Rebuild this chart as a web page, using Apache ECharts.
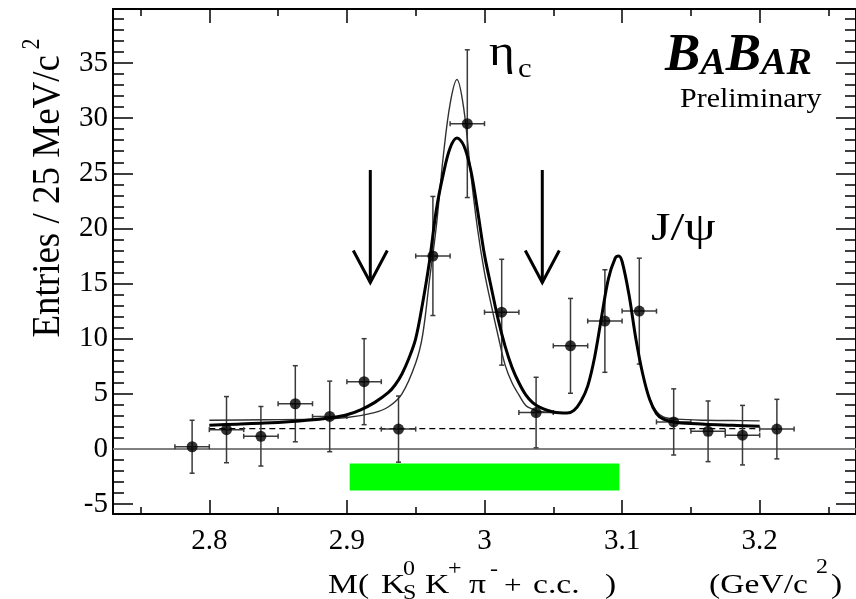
<!DOCTYPE html>
<html><head><meta charset="utf-8">
<script src="https://cdn.jsdelivr.net/npm/echarts@6/dist/echarts.min.js"></script>
<style>html,body{margin:0;padding:0;background:#fff}#c{width:856px;height:599px}</style>
</head><body><div id="c"></div>
<script>
// ---------- data ----------
const massBins = [2.7875, 2.8125, 2.8375, 2.8625, 2.8875, 2.9125, 2.9375, 2.9625, 2.9875,
                  3.0125, 3.0375, 3.0625, 3.0875, 3.1125, 3.1375, 3.1625, 3.1875, 3.2125];
const counts   = [0.2, 1.75, 1.15, 4.1, 2.95, 6.1, 1.8, 17.5, 29.5,
                  12.4, 3.3, 9.35, 11.6, 12.5, 2.45, 1.6, 1.25, 1.8];
const errors   = [2.4, 3.0, 2.7, 3.45, 3.2, 3.9, 3.0, 5.4, 6.7,
                  4.8, 3.2, 4.3, 4.65, 4.8, 3.0, 2.75, 2.7, 2.7];
const halfBin = 0.0125;

const fitTotalMass = [2.80, 2.82, 2.84, 2.86, 2.88, 2.89, 2.90, 2.91, 2.92, 2.93, 2.935, 2.94, 2.945, 2.95,
  2.955, 2.96, 2.965, 2.97, 2.975, 2.98, 2.985, 2.99, 2.995, 3.00, 3.005, 3.01, 3.015, 3.02, 3.025,
  3.03, 3.035, 3.04, 3.05, 3.06, 3.065, 3.07, 3.075, 3.08, 3.085, 3.09, 3.095, 3.0975, 3.10, 3.105,
  3.11, 3.115, 3.12, 3.125, 3.13, 3.14, 3.16, 3.18, 3.20];
const fitTotal = [2.15, 2.25, 2.35, 2.5, 2.7, 2.85, 3.1, 3.55, 4.2, 5.1, 5.8, 6.8, 8.2, 10.0,
  13.2, 17.0, 21.7, 24.9, 27.3, 28.2, 27.5, 25.3, 21.6, 17.6, 14.6, 11.7, 9.3, 7.4, 6.0,
  4.9, 4.2, 3.8, 3.35, 3.25, 3.5, 4.3, 5.7, 8.3, 11.9, 15.4, 17.3, 17.5, 17.0, 14.0,
  10.0, 6.8, 4.5, 3.2, 2.7, 2.4, 2.25, 2.15, 2.05];

const fitNarrowMass = [2.80, 2.84, 2.875, 2.90, 2.92, 2.93, 2.94, 2.95, 2.955, 2.96, 2.965, 2.97, 2.975,
  2.98, 2.985, 2.99, 2.995, 3.00, 3.005, 3.01, 3.015, 3.02, 3.025, 3.03, 3.035, 3.04, 3.05, 3.06,
  3.065, 3.07, 3.075, 3.08, 3.085, 3.09, 3.095, 3.0975, 3.10, 3.105, 3.11, 3.115, 3.12, 3.125,
  3.13, 3.14, 3.16, 3.18, 3.20];
const fitNarrow = [2.6, 2.65, 2.7, 2.85, 3.3, 3.8, 5.0, 7.8, 10.3, 15.3, 20.2, 26.5, 31.3,
  33.5, 30.8, 25.0, 19.9, 16.0, 13.0, 10.2, 7.6, 6.0, 4.9, 3.95, 3.6, 3.4, 3.3, 3.25,
  3.5, 4.3, 5.7, 8.3, 11.9, 15.4, 17.3, 17.5, 17.0, 14.0, 10.0, 6.8, 4.6, 3.4,
  2.9, 2.7, 2.6, 2.58, 2.55];

const bkgMass = [2.80, 3.20];
const bkgLevel = [1.85, 1.85];

const zeroMass = [2.73, 3.27];
const zeroLevel = [0, 0];

const signalRegion = [2.902, -1.33, 3.098, -3.76]; // x0, yTop, x1, yBottom
const arrowMass = [2.917, 3.042];
const arrowTop = [25.3, 25.3];
const arrowTip = [15.1, 15.1];

const xMajorTicks = [2.8, 2.9, 3.0, 3.1, 3.2];
const xMinorTicks = [2.75, 2.85, 2.95, 3.05, 3.15, 3.25];
const yMajorTicks = [-5, 0, 5, 10, 15, 20, 25, 30, 35];
const yMinorTicks = [];
for (let v = -5; v <= 39; v++) if (v % 5 !== 0) yMinorTicks.push(v);

const X_MIN = 2.73, X_MAX = 3.27, Y_MIN = -5.9, Y_MAX = 39.9;

// ---------- chart ----------
const FONT = 'Liberation Serif';
const chart = echarts.init(document.getElementById('c'), null, {renderer: 'canvas'});

function xAxisDef(pos, ticks, len, showLine, showLabels) {
  return {
    type: 'value', min: X_MIN, max: X_MAX, position: pos, gridIndex: 0,
    axisLine: {show: showLine, onZero: false, lineStyle: {color: '#000', width: 2}},
    axisTick: {show: true, inside: true, length: len, customValues: ticks, lineStyle: {color: '#000', width: 1.5}},
    axisLabel: showLabels ? {show: true, customValues: ticks, fontFamily: FONT, fontSize: 29, color: '#000', margin: 13}
                          : {show: false},
    splitLine: {show: false}
  };
}
function yAxisDef(pos, ticks, len, showLine, showLabels) {
  return {
    type: 'value', min: Y_MIN, max: Y_MAX, position: pos, gridIndex: 0,
    axisLine: {show: showLine, onZero: false, lineStyle: {color: '#000', width: 2}},
    axisTick: {show: true, inside: true, length: len, customValues: ticks, lineStyle: {color: '#000', width: 1.5}},
    axisLabel: showLabels ? {show: true, customValues: ticks, fontFamily: FONT, fontSize: 29, color: '#000', margin: 5}
                          : {show: false},
    splitLine: {show: false}
  };
}

const SX = 1.2; // horizontal stretch of the reference lettering
const txt = (text, x, base, size, extra, sx) => ({
  type: 'text', x: x, y: base - 0.34 * size, z: 100, scaleX: sx === undefined ? SX : sx,
  style: Object.assign({text: text, fontFamily: FONT, fontSize: size, fill: '#000', align: 'left', verticalAlign: 'middle'}, extra || {})
});

const option = {
  animation: false,
  backgroundColor: '#fff',
  grid: {left: 113, top: 9, width: 747, height: 505, containLabel: false},
  xAxis: [
    xAxisDef('bottom', xMajorTicks, 14, true, true),
    xAxisDef('bottom', xMinorTicks, 7, false, false),
    xAxisDef('top', xMajorTicks, 14, true, false),
    xAxisDef('top', xMinorTicks, 7, false, false)
  ],
  yAxis: [
    yAxisDef('left', yMajorTicks, 20, true, true),
    yAxisDef('left', yMinorTicks, 11, false, false),
    yAxisDef('right', yMajorTicks, 20, true, false),
    yAxisDef('right', yMinorTicks, 11, false, false)
  ],
  series: [
    {
      type: 'line', name: 'zero', data: zeroMass.map((m, i) => [m, zeroLevel[i]]),
      symbol: 'none', lineStyle: {color: '#808080', width: 2}, silent: true, z: 1
    },
    {
      type: 'custom', name: 'signal region', data: [signalRegion],
      encode: {x: [0, 2], y: [1, 3]},
      renderItem: (params, api) => {
        const a = api.coord([api.value(0), api.value(1)]);
        const b = api.coord([api.value(2), api.value(3)]);
        return {type: 'rect', shape: {x: a[0], y: a[1], width: b[0] - a[0], height: b[1] - a[1]},
                style: {fill: '#00ff00'}};
      }, z: 2
    },
    {
      type: 'line', name: 'background', data: bkgMass.map((m, i) => [m, bkgLevel[i]]),
      symbol: 'none', lineStyle: {color: '#000', width: 1.3, type: [6, 4]}, z: 3
    },
    {
      type: 'custom', name: 'errors', data: massBins.map((m, i) => [m, counts[i], errors[i]]),
      encode: {x: 0, y: 1},
      renderItem: (params, api) => {
        const x = api.value(0), y = api.value(1), e = api.value(2);
        const c = api.coord([x, y]);
        const t = api.coord([x, y + e]);
        const b = api.coord([x, y - e]);
        const l = api.coord([x - halfBin, y]);
        const r = api.coord([x + halfBin, y]);
        const cap = 2.5;
        const st = {stroke: '#3a3a3a', lineWidth: 1.5};
        const L = (x1, y1, x2, y2) => ({type: 'line', shape: {x1, y1, x2, y2}, style: st});
        return {type: 'group', children: [
          L(c[0], t[1], c[0], b[1]),
          L(c[0] - cap, t[1], c[0] + cap, t[1]),
          L(c[0] - cap, b[1], c[0] + cap, b[1]),
          L(l[0], c[1], r[0], c[1]),
          L(l[0], c[1] - cap, l[0], c[1] + cap),
          L(r[0], c[1] - cap, r[0], c[1] + cap)
        ]};
      }, z: 4
    },
    {
      type: 'line', name: 'narrow fit', data: fitNarrowMass.map((m, i) => [m, fitNarrow[i]]),
      symbol: 'none', smooth: 0.35, lineStyle: {color: '#303030', width: 1.4}, z: 5
    },
    {
      type: 'line', name: 'fit', data: fitTotalMass.map((m, i) => [m, fitTotal[i]]),
      symbol: 'none', smooth: 0.35, lineStyle: {color: '#000', width: 3}, z: 6
    },
    {
      type: 'scatter', name: 'data', data: massBins.map((m, i) => [m, counts[i]]),
      symbol: 'circle', symbolSize: 11, itemStyle: {color: '#000'}, z: 7
    },
    {
      type: 'custom', name: 'arrows', data: arrowMass.map((m, i) => [m, arrowTop[i], arrowTip[i]]),
      encode: {x: 0, y: [1, 2]},
      renderItem: (params, api) => {
        const top = api.coord([api.value(0), api.value(1)]);
        const tip = api.coord([api.value(0), api.value(2)]);
        const st = {stroke: '#000', lineWidth: 3, fill: null};
        return {type: 'group', children: [
          {type: 'line', shape: {x1: top[0], y1: top[1], x2: tip[0], y2: tip[1]}, style: st},
          {type: 'polyline', shape: {points: [[tip[0] - 17, tip[1] - 32], [tip[0], tip[1]], [tip[0] + 17, tip[1] - 32]]}, style: st}
        ]};
      }, z: 8
    }
  ],
  graphic: [
    // peak labels
    txt('\u03b7', 489, 68, 44, null, 1.12),
    txt('c', 518, 79, 28, null, 1.1),
    txt('J/\u03c8', 651, 243, 40, null, 1.25),
    // BABAR logo
    {
      type: 'text', x: 665, y: 83, z: 100,
      style: {
        text: '{b|B}{s|A}{b|B}{s|A}{s|R}', align: 'left', verticalAlign: 'bottom',
        rich: {
          b: {fontFamily: FONT, fontSize: 53, fontWeight: 'bold', fontStyle: 'italic', fill: '#000', verticalAlign: 'bottom'},
          s: {fontFamily: FONT, fontSize: 38, fontWeight: 'bold', fontStyle: 'italic', fill: '#000', verticalAlign: 'bottom'}
        }
      }
    },
    txt('Preliminary', 680, 109, 28, null, 1.07),
    // x axis title
    txt('M(', 328, 595, 28),
    txt('K', 381, 595, 28),
    txt('0', 403, 577, 20),
    txt('S', 403, 601, 20),
    txt('K', 425, 595, 28),
    txt('+', 448, 577, 20),
    txt('\u03c0', 469, 595, 28),
    txt('-', 490, 577, 20),
    txt('+', 504, 595, 26),
    txt('c.c.', 533, 595, 28),
    txt(')', 605, 595, 28),
    txt('(GeV/c', 709, 595, 28),
    txt('2', 816, 575, 20),
    txt(')', 831, 595, 28),
    // y axis title
    {
      type: 'text', x: 48, y: 55, rotation: Math.PI / 2, scaleY: 1.1, z: 100,
      style: {text: 'Entries / 25 MeV/c', fontFamily: FONT, fontSize: 37, fill: '#000', align: 'right', verticalAlign: 'middle'}
    },
    {
      type: 'text', x: 33, y: 44, rotation: Math.PI / 2, scaleY: 1.1, z: 100,
      style: {text: '2', fontFamily: FONT, fontSize: 22, fill: '#000', align: 'center', verticalAlign: 'middle'}
    }
  ]
};
chart.setOption(option);
</script>
</body></html>
